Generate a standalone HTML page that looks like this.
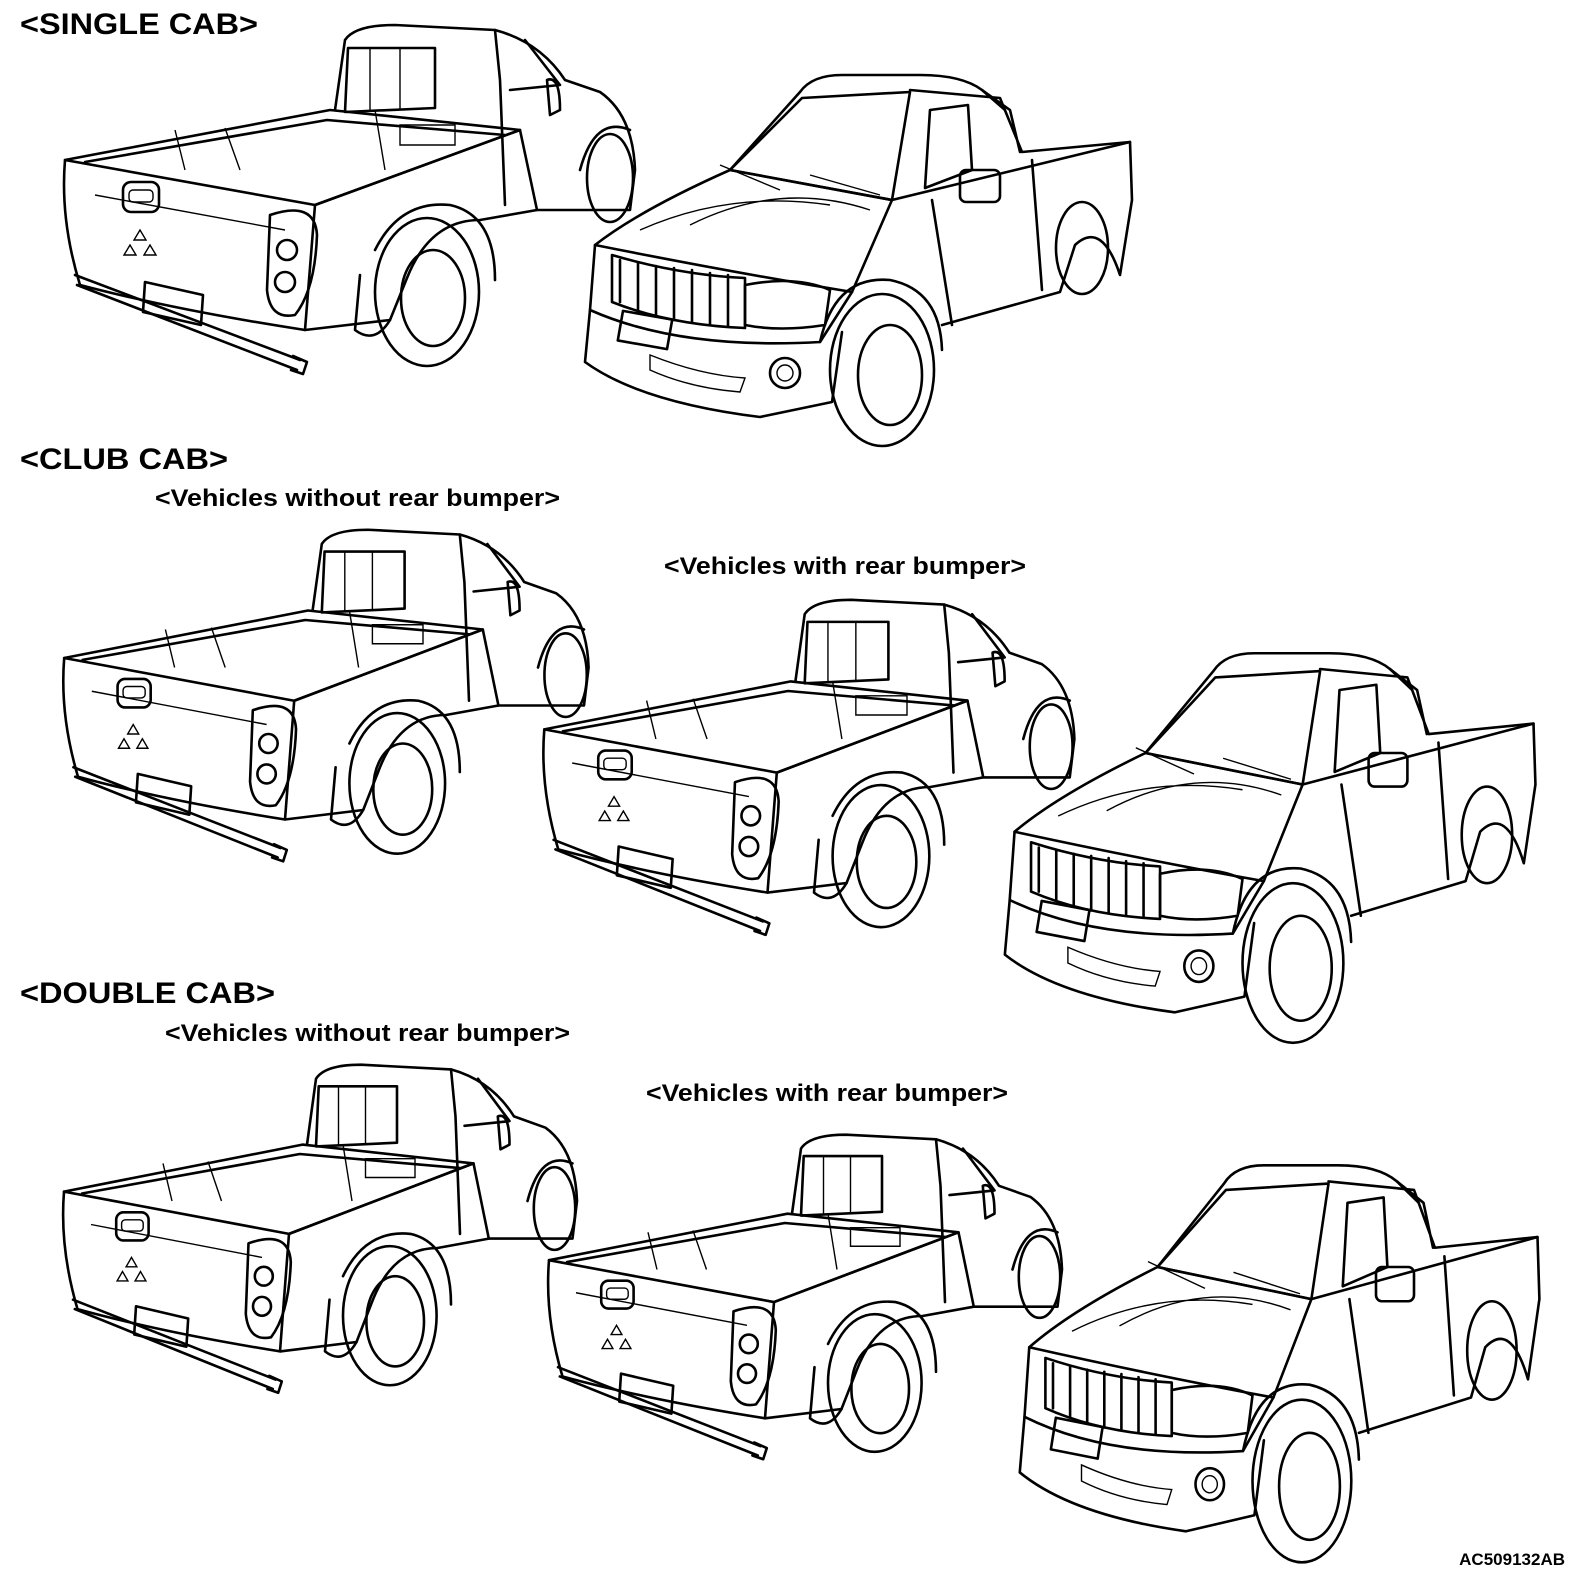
<!DOCTYPE html>
<html><head><meta charset="utf-8"><style>
html,body{margin:0;padding:0;background:#fff;}
svg{display:block}
text{font-family:"Liberation Sans",Arial,sans-serif;font-weight:bold;fill:#000}
.l{fill:none;stroke:#000;stroke-width:2.6;stroke-linejoin:round;stroke-linecap:round;vector-effect:non-scaling-stroke}
.t{fill:none;stroke:#000;stroke-width:1.4;vector-effect:non-scaling-stroke}
</style></head><body>
<svg width="1575" height="1572" viewBox="0 0 1575 1572" xmlns="http://www.w3.org/2000/svg">
<defs>
<g id="rear">
 <path class="l" d="M10,140 L260,185 L250,310 Q120,290 25,265 Q5,200 10,140 Z"/>
 <path class="l" d="M10,140 L275,90 L465,110 L260,185"/>
 <path class="l" d="M30,142 L272,100 L450,115"/>
 <path class="l" d="M260,185 L465,110 L482,190 L425,200 Q375,200 352,258 L335,300 L250,310"/>
 <path class="l" d="M280,90 L290,20 Q300,5 340,5 L440,10 Q485,22 510,60 L545,72 Q578,95 580,150 L575,190 L482,190"/>
 <path class="l" d="M293,28 L380,28 L380,88 L290,92 Z"/>
 <path class="t" d="M315,28 L315,90 M345,28 L345,89"/>
 <path class="l" d="M440,10 L445,60 L450,185 M470,20 L505,65 L455,70"/>
 <path class="l" d="M492,60 Q505,55 505,90 L495,95 Z"/>
 <ellipse class="l" cx="372" cy="272" rx="52" ry="74"/>
 <ellipse class="l" cx="378" cy="278" rx="32" ry="48"/>
 <path class="l" d="M320,230 Q345,180 395,185 Q440,195 440,260"/>
 <ellipse class="l" cx="555" cy="158" rx="23" ry="44"/>
 <path class="l" d="M525,150 Q540,95 575,110"/>
 <path class="l" d="M215,195 Q260,180 262,215 Q260,270 240,295 Q215,300 212,270 Z"/>
 <circle class="l" cx="232" cy="230" r="10"/><circle class="l" cx="230" cy="262" r="10"/>
 <rect class="l" x="68" y="162" width="36" height="30" rx="8"/>
 <rect class="t" x="74" y="170" width="24" height="12" rx="4"/>
 <path class="t" d="M85,210 l-6,10 h12 z M75,225 l-6,10 h12 z M95,225 l-6,10 h12 z"/>
 <path class="l" d="M90,262 L148,275 L146,305 L88,292 Z"/>
 <path class="l" d="M20,255 L245,340 M22,265 L242,350"/>
 <path class="l" d="M238,336 L252,342 L248,354 L236,350"/>
 <path class="l" d="M305,255 L300,310 Q320,325 335,300"/>
 <path class="t" d="M40,175 L230,210 M120,110 L130,150 M170,108 L185,150 M320,90 L330,150 M345,105 L400,105 L400,125 L345,125 Z"/>
</g>
<g id="front">
 <path class="l" d="M150,100 L220,22 Q232,5 262,5 L340,5 Q382,5 402,20 L425,40"/>
 <path class="l" d="M150,100 L222,28 L330,22 L312,130 Z"/>
 <path class="l" d="M15,175 Q60,140 150,100 L312,130 L272,222 Q150,202 15,175 Z"/>
 <path class="t" d="M60,160 Q150,120 250,135 M110,155 Q200,110 290,140"/>
 <path class="l" d="M15,175 L10,240 Q100,280 240,272 L272,222"/>
 <path class="l" d="M40,190 L40,232 M58,193 L58,240 M76,196 L76,246 M94,198 L94,250 M112,200 L112,252 M130,203 L130,254 M148,205 L148,256"/>
 <path class="l" d="M32,185 Q100,205 165,208 L165,258 Q90,255 32,232 Z"/>
 <path class="l" d="M165,215 Q215,205 250,220 L245,255 Q200,262 165,255 Z"/>
 <path class="l" d="M10,240 L5,292 Q60,332 180,347 L252,332 L262,262"/>
 <rect class="l" x="40" y="245" width="50" height="30" transform="rotate(10 65 260)"/>
 <path class="t" d="M70,285 Q120,305 165,308 L160,322 Q110,318 70,300 Z"/>
 <circle class="l" cx="205" cy="303" r="15"/><circle class="t" cx="205" cy="303" r="8"/>
 <path class="l" d="M312,130 L550,72 L552,130 L540,205 Q522,150 495,175 L480,222 L362,255"/>
 <path class="l" d="M330,20 L420,28 L442,82 L550,72 M402,20 L430,40 L440,82"/>
 <path class="l" d="M350,40 L388,35 L392,100 L345,118 Z"/>
 <path class="l" d="M352,130 L372,255 M452,90 L462,220"/>
 <rect class="l" x="380" y="100" width="40" height="32" rx="6"/>
 <ellipse class="l" cx="302" cy="300" rx="52" ry="76"/>
 <ellipse class="l" cx="310" cy="305" rx="32" ry="50"/>
 <path class="l" d="M240,272 Q255,205 310,210 Q360,220 362,280"/>
 <ellipse class="l" cx="502" cy="178" rx="26" ry="46"/>
 <path class="t" d="M140,95 L200,120 M230,105 L300,125"/>
</g>
</defs>
<text x="20" y="34" font-size="30" textLength="238" lengthAdjust="spacingAndGlyphs">&lt;SINGLE CAB&gt;</text>
<text x="20" y="469" font-size="30" textLength="208" lengthAdjust="spacingAndGlyphs">&lt;CLUB CAB&gt;</text>
<text x="155" y="506" font-size="24" textLength="405" lengthAdjust="spacingAndGlyphs">&lt;Vehicles without rear bumper&gt;</text>
<text x="664" y="574" font-size="24" textLength="362" lengthAdjust="spacingAndGlyphs">&lt;Vehicles with rear bumper&gt;</text>
<text x="20" y="1003" font-size="30" textLength="255" lengthAdjust="spacingAndGlyphs">&lt;DOUBLE CAB&gt;</text>
<text x="165" y="1041" font-size="24" textLength="405" lengthAdjust="spacingAndGlyphs">&lt;Vehicles without rear bumper&gt;</text>
<text x="646" y="1101" font-size="24" textLength="362" lengthAdjust="spacingAndGlyphs">&lt;Vehicles with rear bumper&gt;</text>
<text x="1565" y="1565" font-size="17" text-anchor="end">AC509132AB</text>

<use href="#rear" transform="translate(55,20)"/>
<use href="#front" transform="translate(580,70)"/>
<use href="#rear" transform="translate(55,525) scale(0.92,0.95)"/>
<use href="#rear" transform="translate(535,595) scale(0.93,0.96)"/>
<use href="#front" transform="translate(1000,648) scale(0.97,1.05)"/>
<use href="#rear" transform="translate(55,1060) scale(0.9,0.94)"/>
<use href="#rear" transform="translate(540,1130) scale(0.9,0.93)"/>
<use href="#front" transform="translate(1015,1160) scale(0.95,1.07)"/>
</svg>
</body></html>
